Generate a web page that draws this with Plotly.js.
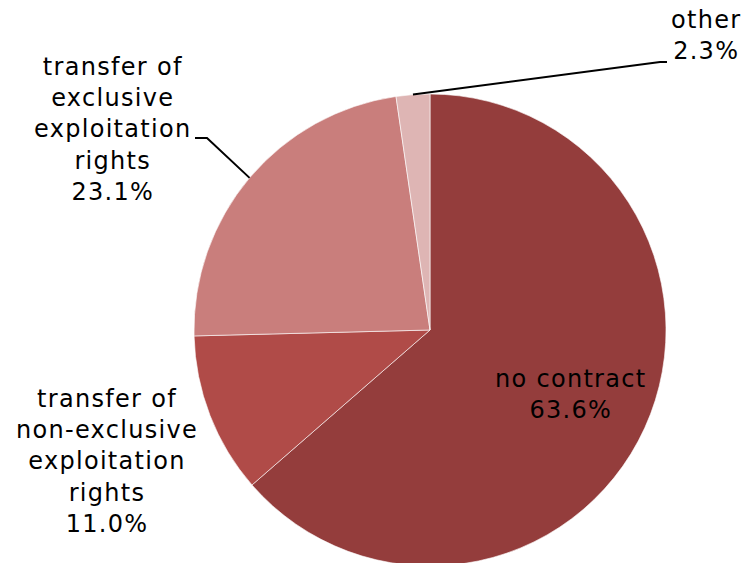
<!DOCTYPE html>
<html><head><meta charset="utf-8">
<script src="https://cdn.plot.ly/plotly-3.0.1.min.js"></script>
<style>html,body{margin:0;padding:0;background:#fff;overflow:hidden}
.annotation-text{letter-spacing:1.3px}</style>
</head><body>
<div id="chart" style="width:747px;height:570px"></div>
<script>
const categories = ["no contract", "transfer of non-exclusive exploitation rights", "transfer of exclusive exploitation rights", "other"];
const labelText = ["no contract", "transfer of<br>non-exclusive<br>exploitation<br>rights", "transfer of<br>exclusive<br>exploitation<br>rights", "other"];
const values = [63.6, 11.0, 23.1, 2.3];
const colors = ["#943D3C", "#B04B48", "#C97E7C", "#DEB5B4"];

const W = 747, H = 570;
const cx = 430, cy = 330, R = 236;
const FONT = {family: "DejaVu Sans, Verdana, sans-serif", size: 24, color: "#000"};

const px = x => x / W;
const py = y => (H - y) / H;

// mid-angle of each slice (clockwise from top), from data
const total = values.reduce((a, b) => a + b, 0);
let cum = 0;
const mids = values.map(v => { const m = (cum + v / 2) / total * 2 * Math.PI; cum += v; return m; });
const edgePt = i => [cx + R * Math.sin(mids[i]), cy - R * Math.cos(mids[i])];

const fmt = v => v.toFixed(1) + "%";

const annotations = [
  {x: px(571), y: py(395), text: labelText[0] + "<br>" + fmt(values[0])},
  {x: px(107), y: py(461), text: labelText[1] + "<br>" + fmt(values[1])},
  {x: px(113), y: py(129), text: labelText[2] + "<br>" + fmt(values[2])},
  {x: px(706), y: py(36), text: labelText[3] + "<br>" + fmt(values[3])}
].map(a => Object.assign({xref: "paper", yref: "paper", showarrow: false, font: FONT, align: "center", xanchor: "center", yanchor: "middle"}, a));

const e3 = edgePt(3), e2 = edgePt(2);
const line = {color: "#000", width: 2};
const shapes = [
  {type: "path", xref: "paper", yref: "paper", line,
   path: `M ${px(e3[0])} ${py(e3[1])} L ${px(660)} ${py(62)} L ${px(667)} ${py(62)}`},
  {type: "path", xref: "paper", yref: "paper", line,
   path: `M ${px(e2[0])} ${py(e2[1])} L ${px(207)} ${py(138)} L ${px(195)} ${py(138)}`}
];

const trace = {
  type: "pie",
  labels: categories,
  values: values,
  sort: false,
  direction: "clockwise",
  rotation: 0,
  textinfo: "none",
  hoverinfo: "label+percent",
  marker: {colors: colors, line: {color: "rgba(255,255,255,0.6)", width: 1}},
  domain: {x: [px(cx - R), px(cx + R)], y: [py(cy + R), py(cy - R)]},
  showlegend: false
};

Plotly.newPlot("chart", [trace], {
  width: W, height: H,
  margin: {l: 0, r: 0, t: 0, b: 0},
  paper_bgcolor: "#fff",
  annotations, shapes,
  font: FONT
}, {displayModeBar: false, staticPlot: true});
</script>
</body></html>
